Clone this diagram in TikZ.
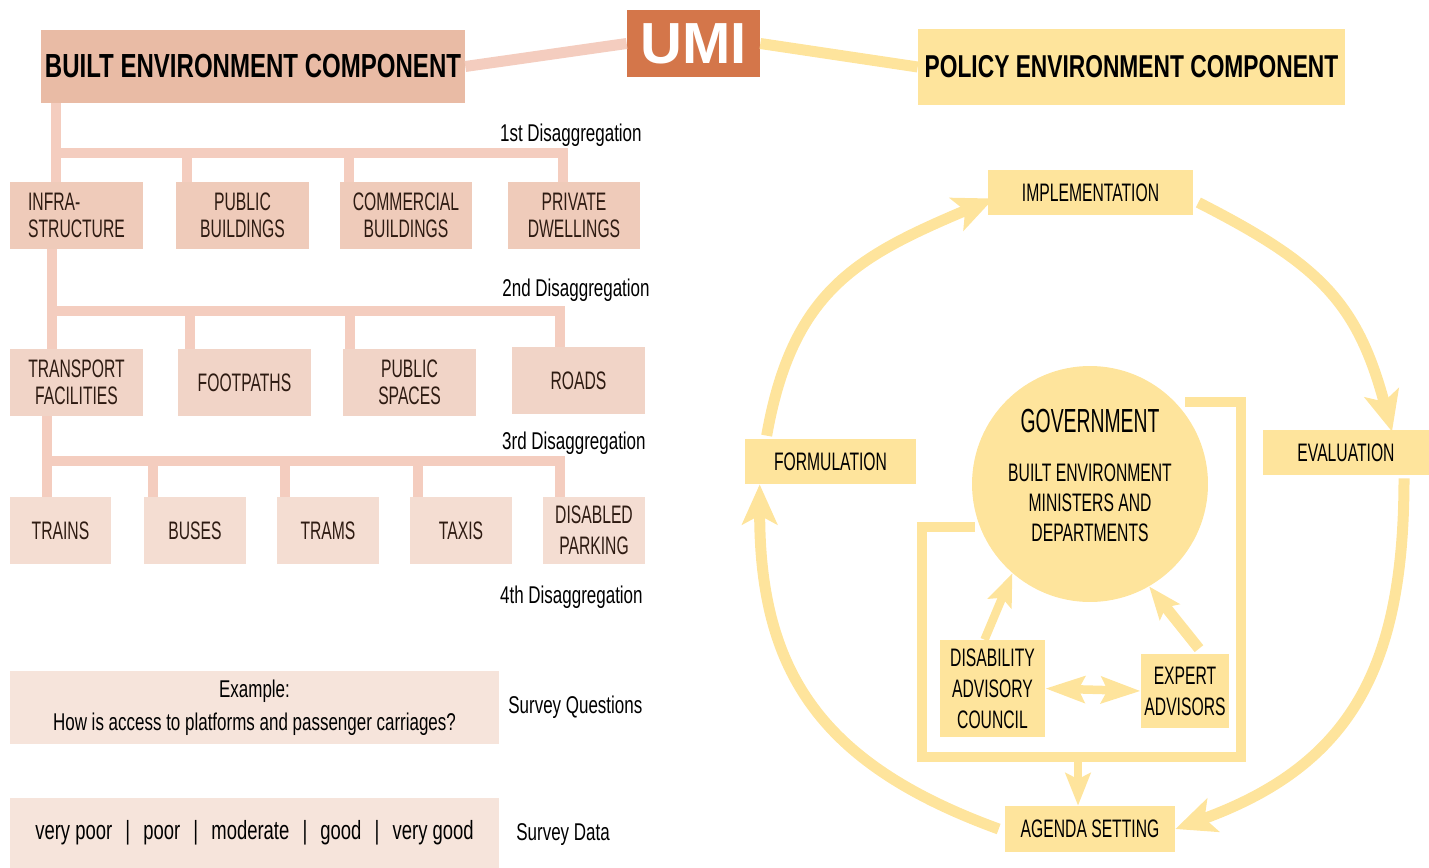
\documentclass[tikz,border=0pt]{standalone}
\usepackage{fontspec}
\setmainfont{Liberation Sans}[FakeStretch=0.62]
\newfontfamily\lowfont{Liberation Sans}[FakeStretch=0.7]
\newfontfamily\headfont{Liberation Sans}[FakeStretch=0.72]
\newfontfamily\govfont{Liberation Sans}[FakeStretch=0.58]
\newfontfamily\umifont{Liberation Sans}
\usetikzlibrary{arrows.meta,calc}

\definecolor{headpink}{HTML}{E9BBA5}
\definecolor{pinkA}{HTML}{EFCBBA}
\definecolor{pinkB}{HTML}{F1D4C7}
\definecolor{pinkC}{HTML}{F4DDD2}
\definecolor{pinkD}{HTML}{F6E4DB}
\definecolor{pinkline}{HTML}{F4CDBF}
\definecolor{umiorange}{HTML}{D4764A}
\definecolor{ylw}{HTML}{FEE49C}
\definecolor{ink}{HTML}{2E1B12}

\newcommand\lblfont{\fontsize{14.4}{15.3}\selectfont}
\newcommand\notefont{\lowfont\fontsize{13.8}{18.7}\selectfont}

\tikzset{
  pbox/.style={fill=#1, text=ink, font=\lblfont, inner sep=0pt, align=center,
    minimum width=2.66cm, minimum height=1.34cm},
  sbox/.style={pbox=pinkC, minimum width=2.04cm},
  ybox/.style={fill=ylw, font=\lblfont, inner sep=0pt, align=center, minimum height=0.9cm},
  branch/.style={draw=pinkline, line width=0.2cm},
  turn/.style={draw=ylw, line width=0.22cm, looseness=1.15,
    -{Stealth[length=0.8cm,width=0.7cm,inset=0.18cm]}},
  feed/.style={draw=ylw, line width=0.17cm, -{Stealth[length=0.65cm,width=0.5cm,inset=0.12cm]}},
  note/.style={font=\notefont, inner sep=0pt}
}

\begin{document}
\begin{tikzpicture}[x=0.02cm,y=0.02cm]
  \useasboundingbox (0,0) rectangle (1429,-868);

  % headers
  \node[fill=headpink, minimum width=8.48cm, minimum height=1.46cm, inner sep=0pt,
    font=\headfont\bfseries\fontsize{19}{19}\selectfont] (built) at (253,-66.5) {BUILT ENVIRONMENT COMPONENT};
  \node[fill=umiorange, text=white, minimum width=2.66cm, minimum height=1.34cm, inner sep=0pt,
    font=\umifont\bfseries\fontsize{33}{33}\selectfont] (umi) at (693.5,-43.5) {UMI};
  \node[fill=ylw, minimum width=8.54cm, minimum height=1.52cm, inner sep=0pt,
    font=\headfont\bfseries\fontsize{18}{18}\selectfont] (policy) at (1131.5,-67) {POLICY ENVIRONMENT COMPONENT};
  \draw[pinkline, line width=0.22cm] (built.east) -- (umi.west);
  \draw[ylw, line width=0.22cm] (umi.east) -- (policy.west);

  % built environment tree
  \node[pbox=pinkA, align=left] (infra) at (76.5,-215.5) {INFRA-\\STRUCTURE};
  \node[pbox=pinkA] (pubb)  at (242.5,-215.5) {PUBLIC\\BUILDINGS};
  \node[pbox=pinkA] (comm)  at (406,-215.5)   {COMMERCIAL\\BUILDINGS};
  \node[pbox=pinkA] (dwell) at (574,-215.5)   {PRIVATE\\DWELLINGS};

  \node[pbox=pinkB] (trans) at (76.5,-382.5)  {TRANSPORT\\FACILITIES};
  \node[pbox=pinkB] (foot)  at (244.5,-382.5) {FOOTPATHS};
  \node[pbox=pinkB] (pubs)  at (409.5,-382.5) {PUBLIC\\SPACES};
  \node[pbox=pinkB] (roads) at (578.5,-380.5) {ROADS};

  \node[sbox] (trains) at (60.5,-530.5) {TRAINS};
  \node[sbox] (buses)  at (195,-530.5)  {BUSES};
  \node[sbox] (trams)  at (328,-530.5)  {TRAMS};
  \node[sbox] (taxis)  at (461,-530.5)  {TAXIS};
  \node[sbox, font=\fontsize{14.4}{17.6}\selectfont] (dpark) at (594,-530.5) {DISABLED\\PARKING};

  \node[note, anchor=east] (dis1) at (642,-135) {1st Disaggregation};
  \node[note, anchor=east] (dis2) at (650,-290) {2nd Disaggregation};
  \node[note, anchor=east] (dis3) at (646,-443) {3rd Disaggregation};
  \node[note, anchor=east] (dis4) at (643,-597) {4th Disaggregation};

  \coordinate (j1) at (56,-153);
  \coordinate (b1) at (187,-153);
  \coordinate (c1) at (349,-153);
  \coordinate (d1) at (563,-153);
  \draw[branch] (built.south -| j1) -- (j1 |- infra.north);
  \draw[branch] (j1) -- (d1) -- (d1 |- dwell.north);
  \draw[branch] (b1) -- (b1 |- pubb.north);
  \draw[branch] (c1) -- (c1 |- comm.north);

  \coordinate (j2) at (52,-311);
  \coordinate (b2) at (190,-311);
  \coordinate (c2) at (350,-311);
  \coordinate (d2) at (560,-311);
  \draw[branch] (infra.south -| j2) -- (j2 |- trans.north);
  \draw[branch] (j2) -- (d2) -- (d2 |- roads.north);
  \draw[branch] (b2) -- (b2 |- foot.north);
  \draw[branch] (c2) -- (c2 |- pubs.north);

  \coordinate (j3) at (47,-461);
  \coordinate (b3) at (153,-461);
  \coordinate (c3) at (285,-461);
  \coordinate (e3) at (418,-461);
  \coordinate (d3) at (560,-461);
  \draw[branch] (trans.south -| j3) -- (j3 |- trains.north);
  \draw[branch] (j3) -- (d3) -- (d3 |- dpark.north);
  \draw[branch] (b3) -- (b3 |- buses.north);
  \draw[branch] (c3) -- (c3 |- trams.north);
  \draw[branch] (e3) -- (e3 |- taxis.north);

  % survey
  \node[fill=pinkD, minimum width=9.78cm, minimum height=1.46cm, inner sep=0pt, align=center,
    font=\notefont] (example) at (254.5,-707.5) {Example:\\How is access to platforms and passenger carriages?};
  \node[fill=pinkD, minimum width=9.78cm, minimum height=1.4cm, inner sep=0pt,
    font=\lowfont\fontsize{15}{15}\selectfont] (data) at (254.5,-833)
    {very poor\enspace|\enspace poor\enspace|\enspace moderate\enspace|\enspace good\enspace|\enspace very good};
  \node[note, anchor=west] (sq) at (508,-707) {Survey Questions};
  \node[note, anchor=west] (sd) at (516,-835) {Survey Data};

  % policy cycle
  \draw[ylw, line width=0.2cm] (975,-527) -- (922,-527) -- (922,-757) -- (1241,-757) -- (1241,-402) -- (1185,-402);
  \coordinate (fb) at (1078,-757);

  \node[ybox, minimum width=4.1cm] (impl) at (1090.5,-192.5) {IMPLEMENTATION};
  \node[ybox, minimum width=3.32cm] (evalu) at (1346,-452.5) {EVALUATION};
  \node[ybox, minimum width=3.42cm] (formul) at (830.5,-461.5) {FORMULATION};
  \node[ybox, minimum width=3.4cm, minimum height=0.92cm] (agenda) at (1090,-829) {AGENDA SETTING};
  \node[circle, fill=ylw, minimum size=4.72cm, inner sep=0pt] (gov) at (1090,-484) {};
  \node[align=center, inner sep=0pt, font=\fontsize{14.4}{17}\selectfont] (govtext) at (1090,-475)
    {{\govfont\fontsize{19}{19}\selectfont GOVERNMENT}\\[11pt]BUILT ENVIRONMENT\\MINISTERS AND\\DEPARTMENTS};
  \node[ybox, minimum width=2.1cm, minimum height=1.94cm, font=\fontsize{14.4}{17.6}\selectfont] (dac) at (992.5,-688.5) {DISABILITY\\ADVISORY\\COUNCIL};
  \node[ybox, minimum width=1.76cm, minimum height=1.48cm, font=\fontsize{14.4}{17.6}\selectfont] (expert) at (1185,-691) {EXPERT\\ADVISORS};

  \draw[feed] ($(dac.north)+(-8,0)$) -- (gov.229);
  \draw[feed, line width=0.22cm] ($(expert.north)+(14,5)$) -- (gov.300);
  \draw[feed, {Stealth[length=0.78cm,width=0.52cm,inset=0.12cm]}-{Stealth[length=0.78cm,width=0.52cm,inset=0.12cm]}] (dac.east) -- (expert.west);
  \draw[feed] (fb) -- (fb |- agenda.north);

  \draw[turn] ($(formul.north west)+(22,3)$) to[out=80,in=203] ($(impl.west)+(6,-6)$);
  \draw[turn] ($(impl.east)+(5,-10)$) to[out=-27,in=105] ($(evalu.north)+(46,-2)$);
  \draw[turn] ($(evalu.south)+(58,-3)$) to[out=-90,in=20] (agenda.east);
  \draw[turn] ($(agenda.west)+(-6,0)$) to[out=160,in=-90] ($(formul.south west)+(15,0)$);
\end{tikzpicture}
\end{document}
